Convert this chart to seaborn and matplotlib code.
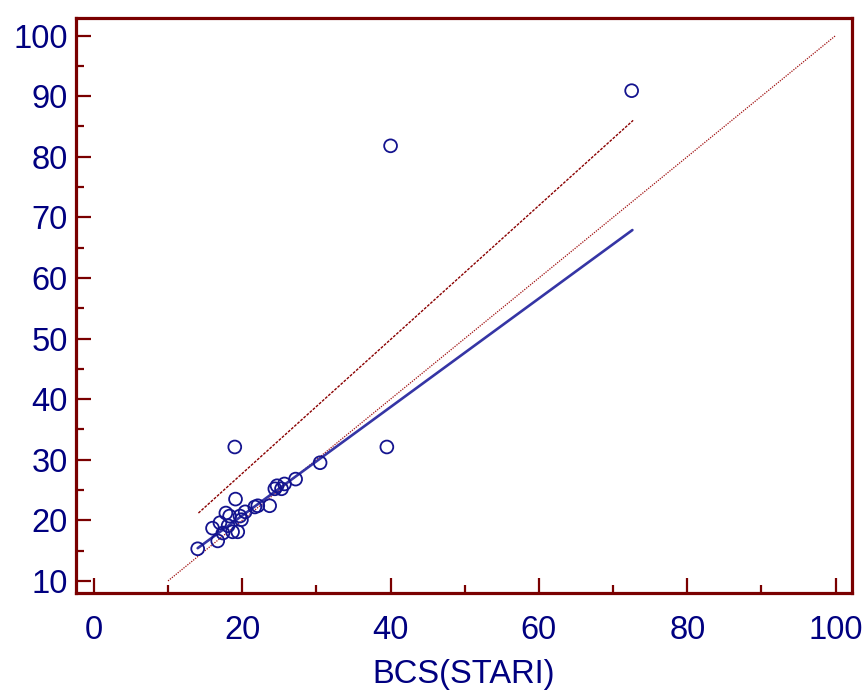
import matplotlib
matplotlib.use("Agg")
import matplotlib.pyplot as plt
import seaborn as sns
import pandas as pd
import numpy as np
from matplotlib.ticker import MultipleLocator

# ---- data ----
bcs_x = [14.0, 16.0, 16.7, 17.0, 17.8, 18.3, 18.1, 17.4, 18.7, 19.4, 19.1, 19.7,
         19.9, 20.4, 21.7, 22.1, 23.7, 24.4, 25.3, 24.7, 25.7, 27.2, 30.5,
         19.0, 39.5, 40.0, 72.5]
meas_y = [15.3, 18.7, 16.6, 19.6, 21.2, 20.7, 19.1, 17.9, 18.1, 18.1, 23.5, 20.7,
          20.1, 21.4, 22.2, 22.4, 22.4, 25.2, 25.2, 25.7, 26.0, 26.8, 29.5,
          32.1, 32.1, 81.8, 90.9]

identity_x = [10, 100]
identity_y = [10, 100]
fit_x = [14.0, 72.6]
fit_y = [15.4, 67.9]
upper_x = [14.1, 72.7]
upper_y = [21.2, 86.0]

x_label = "BCS(STARI)"
x_ticks = [0, 20, 40, 60, 80, 100]
y_ticks = [10, 20, 30, 40, 50, 60, 70, 80, 90, 100]

# ---- style ----
sns.set_theme(style="white")
plt.rcParams['font.family'] = ['Liberation Sans', 'DejaVu Sans']

NAVY = "#000080"
MARK = "#14148f"
MAROON = "#7a0000"
BLUE = "#3535a5"

fig = plt.figure(figsize=(8.66, 6.91), dpi=100)
ax = fig.add_axes([0.0878, 0.1418, 0.896, 0.8322])

sns.lineplot(x=identity_x, y=identity_y, ax=ax, color="#a01010",
             linewidth=0.9, linestyle=(0, (1, 1)), estimator=None, sort=False)
sns.lineplot(x=upper_x, y=upper_y, ax=ax, color="#8a0000",
             linewidth=1.0, linestyle=(0, (2, 1)), estimator=None, sort=False)
sns.lineplot(x=fit_x, y=fit_y, ax=ax, color=BLUE,
             linewidth=1.9, estimator=None, sort=False)

df = pd.DataFrame({"x": bcs_x, "y": meas_y})
sns.scatterplot(data=df, x="x", y="y", ax=ax, marker="o", s=85,
                facecolor="none", edgecolor=MARK, linewidth=1.3, zorder=5)

ax.set_xlim(-2.4, 102.2)
ax.set_ylim(8.0, 102.9)
ax.set_xticks(x_ticks)
ax.set_yticks(y_ticks)
ax.xaxis.set_minor_locator(MultipleLocator(10))
ax.yaxis.set_minor_locator(MultipleLocator(5))

for s in ax.spines.values():
    s.set_color(MAROON)
    s.set_linewidth(2.3)

ax.tick_params(axis="both", which="major", direction="in", length=10.5,
               width=1.6, color=MAROON, labelcolor=NAVY, labelsize=23.5)
ax.tick_params(axis="both", which="minor", direction="in", length=5.5,
               width=1.6, color=MAROON)
ax.tick_params(axis="x", which="major", pad=15.5)
ax.tick_params(axis="y", which="major", pad=6)
ax.tick_params(bottom=True, left=True, which="both")

ax.set_xlabel(x_label, fontsize=23.5, color=NAVY, labelpad=9.5)
ax.set_ylabel("")
ax.grid(False)

fig.savefig("out.png", dpi=100)
